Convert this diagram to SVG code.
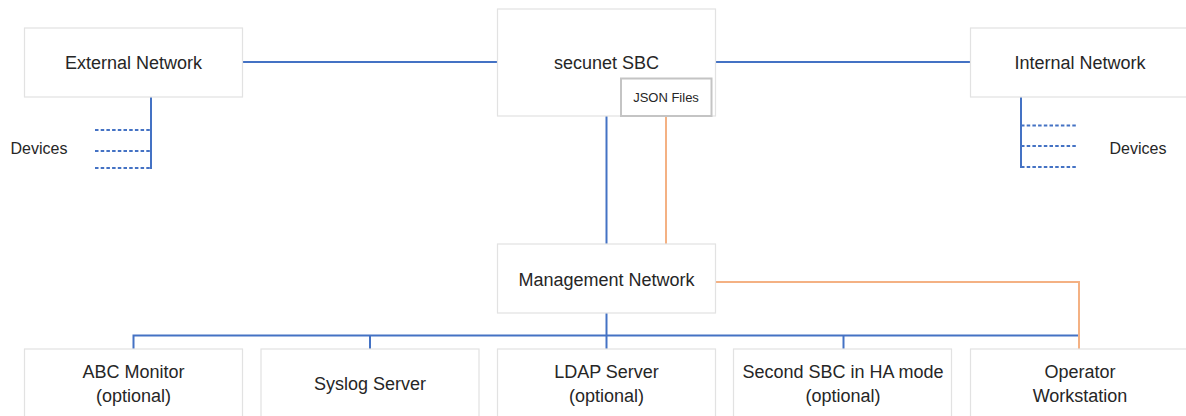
<svg xmlns="http://www.w3.org/2000/svg" width="1186" height="416" viewBox="0 0 1186 416">
<style>
.box{fill:#fff;stroke:#e2e2e2;stroke-width:1.2}
.json{fill:#fff;stroke:#c4c4c4;stroke-width:2}
.t{font-family:"Liberation Sans",Arial,sans-serif;font-size:18px;fill:#262626;text-anchor:middle}
.s{font-size:13px}
.d{font-size:16px}
.blue{stroke:#4472C4;stroke-width:2;fill:none}
.orange{stroke:#F4B183;stroke-width:2;fill:none}
.dash{stroke:#4472C4;stroke-width:2;stroke-dasharray:3.5 2.2;fill:none}
</style>
<rect width="1186" height="416" fill="#fff"/>
<g id="connectors">
<line class="blue" x1="242" y1="62" x2="498" y2="62"/>
<line class="blue" x1="715" y1="62" x2="971" y2="62"/>
<line class="blue" x1="606.5" y1="116" x2="606.5" y2="244"/>
<line class="orange" x1="666" y1="116" x2="666" y2="244"/>
<polyline class="orange" points="715,282 1079,282 1079,349"/>
<line class="blue" x1="606.5" y1="313" x2="606.5" y2="349"/>
<polyline class="blue" points="133.5,349 133.5,335.5 1078,335.5"/>
<line class="blue" x1="370" y1="335.5" x2="370" y2="349"/>
<line class="blue" x1="843.5" y1="335.5" x2="843.5" y2="349"/>
<line class="blue" x1="151" y1="97" x2="151" y2="169"/>
<line class="dash" x1="95" y1="130" x2="151" y2="130"/>
<line class="dash" x1="95" y1="151" x2="151" y2="151"/>
<line class="dash" x1="95" y1="168" x2="151" y2="168"/>
<line class="blue" x1="1021" y1="97" x2="1021" y2="168"/>
<line class="dash" x1="1021" y1="125.5" x2="1076" y2="125.5"/>
<line class="dash" x1="1021" y1="146" x2="1076" y2="146"/>
<line class="dash" x1="1021" y1="167" x2="1076" y2="167"/>
</g>
<g id="external-network">
<rect class="box" x="24.5" y="28" width="218" height="69"/>
<text class="t" x="133.5" y="68.5">External Network</text>
</g>
<g id="external-devices">
<text class="t d" x="39" y="153.7">Devices</text>
</g>
<g id="secunet-sbc">
<rect class="box" x="497.5" y="9" width="218" height="107"/>
<text class="t" x="606.5" y="69.4">secunet SBC</text>
</g>
<g id="json-files">
<rect class="json" x="621" y="78.5" width="90.5" height="37.5"/>
<text class="t s" x="666" y="102.3">JSON Files</text>
</g>
<g id="internal-network">
<rect class="box" x="970.5" y="28" width="218" height="69"/>
<text class="t" x="1080" y="68.5">Internal Network</text>
</g>
<g id="internal-devices">
<text class="t d" x="1138" y="153.7">Devices</text>
</g>
<g id="management-network">
<rect class="box" x="497.5" y="244" width="218" height="69"/>
<text class="t" x="606.5" y="285.7">Management Network</text>
</g>
<g id="abc-monitor">
<rect class="box" x="24.5" y="349" width="218" height="75"/>
<text class="t" x="133.5" y="378">ABC Monitor</text>
<text class="t" x="133.5" y="401.5">(optional)</text>
</g>
<g id="syslog-server">
<rect class="box" x="261" y="349" width="218" height="75"/>
<text class="t" x="370" y="390">Syslog Server</text>
</g>
<g id="ldap-server">
<rect class="box" x="497.5" y="349" width="218" height="75"/>
<text class="t" x="606.5" y="378">LDAP Server</text>
<text class="t" x="606.5" y="401.5">(optional)</text>
</g>
<g id="second-sbc">
<rect class="box" x="733.5" y="349" width="218" height="75"/>
<text class="t" x="843" y="378">Second SBC in HA mode</text>
<text class="t" x="843" y="401.5">(optional)</text>
</g>
<g id="operator-workstation">
<rect class="box" x="970.5" y="349" width="218" height="75"/>
<text class="t" x="1080" y="378">Operator</text>
<text class="t" x="1080" y="401.5">Workstation</text>
</g>
</svg>
